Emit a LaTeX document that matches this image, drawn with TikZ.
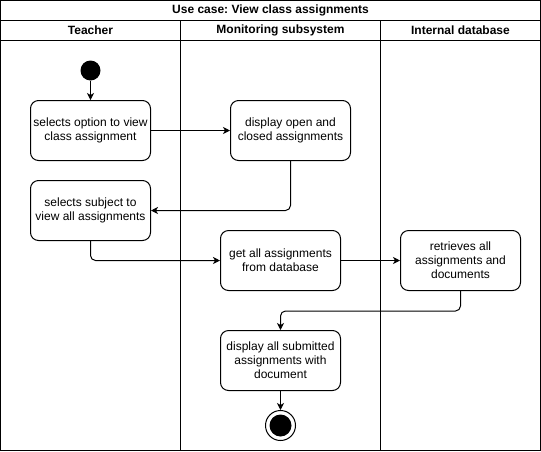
\documentclass[tikz,border=0pt]{standalone}
\usepackage{fontspec}
\setmainfont{Liberation Sans}
\usetikzlibrary{arrows.meta}
\frenchspacing
\begin{document}
\begin{tikzpicture}[x=1pt,y=-1pt,
  line width=1pt,
  act/.style={draw, rounded corners=8pt, minimum width=120pt, minimum height=60pt,
     inner sep=0pt, align=center, font=\fontsize{12}{14}\selectfont},
  hdr/.style={font=\bfseries\fontsize{12}{14}\selectfont},
  flow/.style={-{Stealth[length=7pt,width=7pt,inset=2pt]}, rounded corners=5pt}
]
\useasboundingbox (-0.5,-0.5) rectangle (540.5,450.5);
% frame
\draw (0,0) rectangle (540,450);
\draw (0,20) -- (540,20);
\draw (0,40) -- (540,40);
\draw (180,20) -- (180,450);
\draw (380,20) -- (380,450);
\node[hdr] (title) at (270,10) {Use case: View class assignments};
\node[hdr] (h1) at (90,30) {Teacher};
\node[hdr] (h2) at (280,30) {Monitoring subsystem};
\node[hdr] (h3) at (460,30) {Internal database};
% nodes
\node[circle, fill=black, minimum size=20pt, inner sep=0pt] (start) at (90,70) {};
\node[act] (a1) at (90,130) {selects option to view\\class assignment};
\node[act] (a2) at (290,130) {display open and\\closed assignments};
\node[act] (a3) at (90,210) {selects subject to\\view all assignments};
\node[act] (a4) at (280,260) {get all assignments\\from database};
\node[act] (a5) at (460,260) {retrieves all\\assignments and\\documents};
\node[act] (a6) at (280,360) {display all submitted\\assignments with\\document};
\node[circle, draw, minimum size=30pt, inner sep=0pt] (end) at (280,425) {};
\node[circle, fill=black, minimum size=22pt, inner sep=0pt] (endin) at (280,425) {};
% connectors
\draw[flow] (start) -- (a1);
\draw[flow] (a1) -- (a2);
\draw[flow] (a2.south) |- (a3.east);
\draw[flow] (a3.south) |- (a4.west);
\draw[flow] (a4) -- (a5);
\draw[flow] (a5.south) -- ++(0,20) -| (a6.north);
\draw[flow] (a6) -- (end);
\end{tikzpicture}
\end{document}
